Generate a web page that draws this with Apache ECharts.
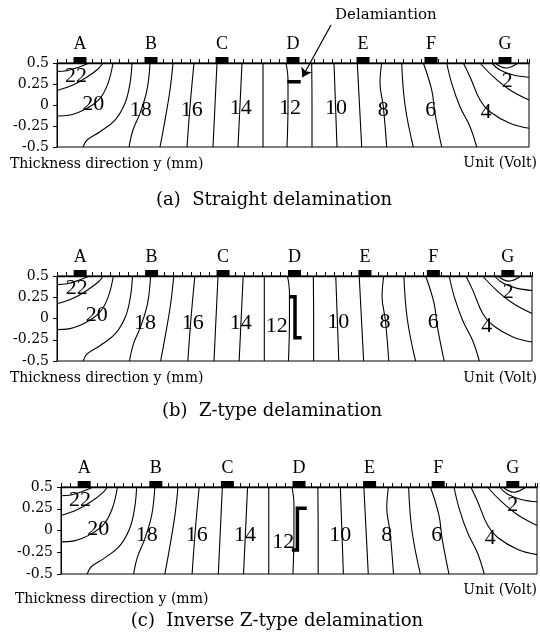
<!DOCTYPE html>
<html>
<head>
<meta charset="utf-8">
<script src="https://cdn.jsdelivr.net/npm/echarts@6/dist/echarts.min.js"></script>
<style>html,body{margin:0;padding:0;background:#fff}#c{width:540px;height:637px}</style>
</head>
<body>
<div id="c"></div>
<script>
// ---------- DATA ----------
const xMax = 472;                 // position along specimen (px-like units)
const yMin = -0.5, yMax = 0.5, yStep = 0.25;   // thickness direction y (mm)
const tickStep = 71 / 8;
const electrodeNames = ['A', 'B', 'C', 'D', 'E', 'F', 'G'];
const electrodePos = [23, 94, 165, 236, 306, 374, 448];

// contour lines (Volt) : [x, y]
const c22 = [[0,0.399],[10,0.408],[23,0.456],[32,0.5]];
const c21 = [[0,0.173],[16,0.238],[30,0.333],[41,0.429],[46,0.5]];
const c20 = [[0,-0.131],[13,-0.119],[30,-0.039],[43,0.080],[51,0.258],[56,0.5]];
const c19 = [[26,-0.5],[30,-0.417],[43,-0.318],[58,-0.179],[68,0.02],[73,0.258],[75,0.5]];
const c18 = [[72,-0.5],[76,-0.298],[83,-0.099],[90,0.179],[93,0.5]];
const c17 = [[103,-0.5],[108,-0.179],[113,0.179],[116,0.5]];
const c16 = [[130,-0.5],[133,-0.02],[137,0.5]];
const c15 = [[156,-0.5],[158,0],[160,0.5]];
const c14 = [[181,-0.5],[183,0],[185,0.5]];
const c13 = [[206,-0.5],[206,0],[206,0.5]];
const c12 = [[230,-0.5],[231,0],[231,0.3],[229,0.5]];
const c11 = [[255,-0.5],[255,0],[254.7,0.5]];
const c10 = [[280,-0.5],[278.5,0],[277,0.5]];
const c9  = [[304.7,-0.5],[302.5,0],[300.3,0.5]];
const c8  = [[329.7,-0.5],[326.3,-0.02],[323,0.262],[324.7,0.5]];
const c7  = [[356.3,-0.5],[348,0],[344.7,0.5]];
const c6  = [[384.7,-0.5],[378,-0.099],[374.7,0.179],[366.3,0.5]];
const c5  = [[419.7,-0.5],[413,-0.258],[403,-0.02],[394.7,0.258],[389.7,0.5]];
const c4  = [[406.3,0.5],[413,0.337],[423,0.06],[433,-0.08],[453,-0.218],[472,-0.277]];
const c3  = [[423,0.5],[436.3,0.337],[453,0.179],[472,0.06]];
const c2  = [[434.7,0.5],[443,0.417],[456.3,0.357],[472,0.33]];
const c1  = [[438,0.5],[449,0.44],[461,0.5]];
const contours = [c22,c21,c20,c19,c18,c17,c16,c15,c14,c13,c12,c11,c10,c9,c8,c7,c6,c5,c4,c3,c2,c1];

// contour value labels per panel
const labelTexts = ['22','20','18','16','14','12','10','8','6','4','2'];
const labelPosA = [[19,0.337],[36.3,0.012],[83.7,-0.06],[134.7,-0.06],[183.7,-0.04],[233,-0.04],[279,-0.04],[326.3,-0.06],[373.7,-0.06],[429,-0.08],[450.3,0.289]];
const labelPosB = [[19.6,0.355],[39.4,0.041],[87.4,-0.057],[134.8,-0.057],[182.5,-0.057],[218.3,-0.096],[279.5,-0.038],[325.9,-0.038],[373.9,-0.038],[427,-0.088],[448.4,0.315]];
const labelPosC = [[18.8,0.351],[37,0.014],[85,-0.052],[134.6,-0.052],[182.5,-0.052],[220.5,-0.14],[276.8,-0.052],[323,-0.052],[372.7,-0.052],[425.6,-0.09],[448,0.293]];

// delamination shapes
const delamA = [[230.3,0.277],[243.7,0.277]];
const delamB = [[230.5,0.256],[236.5,0.256],[236.5,-0.226],[243.1,-0.226]];
const delamC = [[243.7,0.255],[234.4,0.255],[234.4,-0.224],[228.9,-0.224]];
const arrowA = [[274,0.952],[245.3,0.33]];

const captions = ['(a)  Straight delamination', '(b)  Z-type delamination', '(c)  Inverse Z-type delamination'];

// ---------- LAYOUT ----------
const SERIF = 'DejaVu Serif';
const TIMES = 'Liberation Serif';
const grids = [
  {left:57, top:63, width:472, height:84},
  {left:57, top:276, width:475, height:85},
  {left:61, top:487, width:476, height:87}
];
const labelSets = [labelPosA, labelPosB, labelPosC];
const delams = [delamA, delamB, delamC];

const option = {
  animation: false,
  backgroundColor: '#fff',
  grid: grids.map(g => Object.assign({show:true, borderColor:'#000', borderWidth:1, containLabel:false}, g)),
  xAxis: grids.map((g,i) => ({
    type:'value', gridIndex:i, position:'top', min:0, max:xMax, interval:tickStep,
    axisLine:{show:true, onZero:false, lineStyle:{color:'#000', width:1.3}},
    axisTick:{show:true, inside:false, length:4, lineStyle:{color:'#000', width:1}},
    axisLabel:{show:false}, splitLine:{show:false}
  })),
  yAxis: grids.map((g,i) => ({
    type:'value', gridIndex:i, min:yMin, max:yMax, interval:yStep,
    axisLine:{show:true, onZero:false, lineStyle:{color:'#000', width:1}},
    axisTick:{show:true, inside:false, length:4, lineStyle:{color:'#000'}},
    axisLabel:{show:true, color:'#000', fontFamily:SERIF, fontSize:14, margin:8},
    splitLine:{show:false}
  })),
  series: [],
  graphic: []
};

grids.forEach((g, i) => {
  contours.forEach(c => {
    option.series.push({
      type:'line', xAxisIndex:i, yAxisIndex:i, data:c, smooth:0.4,
      showSymbol:false, symbol:'none', lineStyle:{color:'#000', width:1.1}, silent:true
    });
  });
  option.series.push({
    type:'scatter', xAxisIndex:i, yAxisIndex:i, clip:false, symbolSize:0,
    itemStyle:{opacity:1},
    data: labelSets[i].map((p,k) => [p[0], p[1], labelTexts[k]]),
    label:{show:true, position:'inside', formatter: p => p.value[2], color:'#000',
           textBorderWidth:0, textBorderColor:'transparent', fontFamily:TIMES, fontSize:22}
  });
  option.series.push({
    type:'line', xAxisIndex:i, yAxisIndex:i, data:delams[i], showSymbol:false, symbol:'none',
    lineStyle:{color:'#000', width:3.5, cap:'butt', join:'miter'}
  });
  option.series.push({
    type:'scatter', xAxisIndex:i, yAxisIndex:i, clip:false, symbol:'rect', symbolSize:[13,6], symbolOffset:[0,-3],
    itemStyle:{color:'#000', opacity:1},
    data: electrodePos.map((x,k) => [x, yMax, electrodeNames[k]]),
    label:{show:true, position:'top', distance:4, formatter: p => p.value[2], color:'#000',
           textBorderWidth:0, fontFamily:TIMES, fontSize:18}
  });
});

option.series.push({
  type:'lines', coordinateSystem:'cartesian2d', xAxisIndex:0, yAxisIndex:0, clip:false,
  symbol:['none','arrow'], symbolSize:9,
  lineStyle:{color:'#000', width:1.2, opacity:1},
  data:[{coords: arrowA}]
});

const textY = [[164,163,200,274],[378,378,411,272],[599,590,621,277]];
const textX = [10,10,15];
grids.forEach((g,i) => {
  option.graphic.push({type:'text', x:textX[i], y:textY[i][0], style:{text:'Thickness direction y (mm)', fill:'#000', fontFamily:SERIF, fontSize:14, align:'left', verticalAlign:'middle'}});
  option.graphic.push({type:'text', x:537, y:textY[i][1], style:{text:'Unit (Volt)', fill:'#000', fontFamily:SERIF, fontSize:14, align:'right', verticalAlign:'middle'}});
  option.graphic.push({type:'text', x:textY[i][3], y:textY[i][2], style:{text:captions[i], fill:'#000', fontFamily:SERIF, fontSize:18, align:'center', verticalAlign:'middle'}});
});
option.graphic.push({type:'text', x:335, y:15, style:{text:'Delamiantion', fill:'#000', fontFamily:SERIF, fontSize:15, align:'left', verticalAlign:'middle'}});

echarts.init(document.getElementById('c'), null, {renderer:'canvas'}).setOption(option);
</script>
</body>
</html>
